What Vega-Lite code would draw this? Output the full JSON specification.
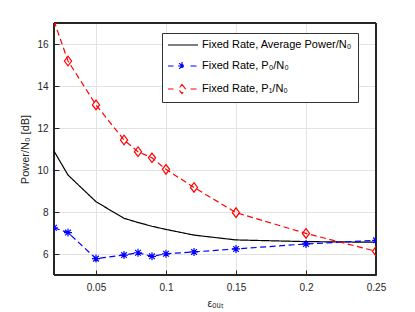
{
  "$schema": "https://vega.github.io/schema/vega-lite/v6.json",
  "width": 322,
  "height": 252,
  "autosize": "none",
  "padding": {"left": 54, "top": 23, "right": 39, "bottom": 37},
  "background": "white",
  "config": {
    "font": "Liberation Sans",
    "view": {"stroke": null},
    "axis": {
      "labelFont": "Liberation Sans",
      "labelFontSize": 10,
      "labelColor": "#262626",
      "domainColor": "#262626",
      "tickColor": "#262626",
      "gridColor": "#e3e3e3",
      "titleFont": "Liberation Sans",
      "titleFontWeight": "normal",
      "titleColor": "#262626",
      "tickSize": -5,
      "domainWidth": 1,
      "labelFlush": false
    }
  },
  "data": {
    "values": [
      {"x": 0.02, "series": "Fixed Rate, Average Power/N₀", "value": 10.9},
      {"x": 0.03, "series": "Fixed Rate, Average Power/N₀", "value": 9.76},
      {"x": 0.05, "series": "Fixed Rate, Average Power/N₀", "value": 8.49},
      {"x": 0.07, "series": "Fixed Rate, Average Power/N₀", "value": 7.7},
      {"x": 0.08, "series": "Fixed Rate, Average Power/N₀", "value": 7.5},
      {"x": 0.09, "series": "Fixed Rate, Average Power/N₀", "value": 7.32},
      {"x": 0.1, "series": "Fixed Rate, Average Power/N₀", "value": 7.17},
      {"x": 0.12, "series": "Fixed Rate, Average Power/N₀", "value": 6.9},
      {"x": 0.15, "series": "Fixed Rate, Average Power/N₀", "value": 6.67},
      {"x": 0.2, "series": "Fixed Rate, Average Power/N₀", "value": 6.59},
      {"x": 0.25, "series": "Fixed Rate, Average Power/N₀", "value": 6.56},
      {"x": 0.02, "series": "Fixed Rate, P₀/N₀", "value": 7.25},
      {"x": 0.03, "series": "Fixed Rate, P₀/N₀", "value": 7.02},
      {"x": 0.05, "series": "Fixed Rate, P₀/N₀", "value": 5.78},
      {"x": 0.07, "series": "Fixed Rate, P₀/N₀", "value": 5.95},
      {"x": 0.08, "series": "Fixed Rate, P₀/N₀", "value": 6.06},
      {"x": 0.09, "series": "Fixed Rate, P₀/N₀", "value": 5.89},
      {"x": 0.1, "series": "Fixed Rate, P₀/N₀", "value": 6.01},
      {"x": 0.12, "series": "Fixed Rate, P₀/N₀", "value": 6.1},
      {"x": 0.15, "series": "Fixed Rate, P₀/N₀", "value": 6.24},
      {"x": 0.2, "series": "Fixed Rate, P₀/N₀", "value": 6.48},
      {"x": 0.25, "series": "Fixed Rate, P₀/N₀", "value": 6.65},
      {"x": 0.02, "series": "Fixed Rate, P₁/N₀", "value": 17.1},
      {"x": 0.03, "series": "Fixed Rate, P₁/N₀", "value": 15.19},
      {"x": 0.05, "series": "Fixed Rate, P₁/N₀", "value": 13.1},
      {"x": 0.07, "series": "Fixed Rate, P₁/N₀", "value": 11.43},
      {"x": 0.08, "series": "Fixed Rate, P₁/N₀", "value": 10.87},
      {"x": 0.09, "series": "Fixed Rate, P₁/N₀", "value": 10.58},
      {"x": 0.1, "series": "Fixed Rate, P₁/N₀", "value": 10.03},
      {"x": 0.12, "series": "Fixed Rate, P₁/N₀", "value": 9.17},
      {"x": 0.15, "series": "Fixed Rate, P₁/N₀", "value": 7.97},
      {"x": 0.2, "series": "Fixed Rate, P₁/N₀", "value": 6.98},
      {"x": 0.25, "series": "Fixed Rate, P₁/N₀", "value": 6.13}
    ]
  },
  "layer": [
    {
      "mark": {"type": "rect", "fill": null, "filled": false, "stroke": "#262626", "strokeWidth": 1},
      "encoding": {
        "x": {"datum": 0.02, "type": "quantitative", "scale": {"domain": [0.02, 0.25], "nice": false, "zero": false},
          "axis": {"orient": "bottom", "values": [0.05, 0.1, 0.15, 0.2, 0.25], "format": "~g", "grid": true, "title": "εₒᵤₜ", "titleFontSize": 11, "labelPadding": 12, "titlePadding": 5}},
        "x2": {"datum": 0.25},
        "y": {"datum": 5, "type": "quantitative", "scale": {"domain": [5, 17], "nice": false, "zero": false},
          "axis": {"orient": "left", "values": [6, 8, 10, 12, 14, 16], "grid": true, "title": "Power/N₀ [dB]", "titleFontSize": 11, "labelPadding": 11, "titlePadding": 6}},
        "y2": {"datum": 17}
      }
    },
    {
      "mark": {"type": "line", "strokeWidth": 1.2, "clip": true},
      "encoding": {
        "x": {"field": "x", "type": "quantitative"},
        "y": {"field": "value", "type": "quantitative"},
        "color": {
          "field": "series", "type": "nominal",
          "scale": {"domain": ["Fixed Rate, Average Power/N₀", "Fixed Rate, P₀/N₀", "Fixed Rate, P₁/N₀"], "range": ["#000000", "#0000ff", "#ff0000"]},
          "legend": {
            "orient": "none", "legendX": 108, "legendY": 10,
            "title": null,
            "labelFont": "Liberation Sans", "labelFontSize": 11, "labelColor": "#000000",
            "fillColor": "white", "strokeColor": "#333333",
            "padding": 6, "rowPadding": 9,
            "symbolSize": 100, "symbolStrokeWidth": 1.2, "labelOffset": 22,
            "encode": {
              "symbols": {
                "update": {
                  "shape": {"signal": "datum.value === 'Fixed Rate, Average Power/N₀' ? 'M-1.2,0H4.8' : datum.value === 'Fixed Rate, P₀/N₀' ? 'M-1.2,0H-0.1M3.3,0H4.8M0.8,0H2.4M1.6,-0.8V0.8M1.03,-0.57L2.17,0.57M1.03,0.57L2.17,-0.57' : 'M-1.2,0H-0.1M3.3,0H4.8M1.6,-0.9L2.3,0L1.6,0.9L0.9,0Z'"},
                  "fill": {"value": "transparent"},
                  "strokeDash": {"value": []}
                }
              }
            }
          }
        },
        "strokeDash": {
          "field": "series", "type": "nominal",
          "scale": {"domain": ["Fixed Rate, Average Power/N₀", "Fixed Rate, P₀/N₀", "Fixed Rate, P₁/N₀"], "range": [[1, 0], [6, 3.5], [6, 3.5]]},
          "legend": null
        }
      }
    },
    {
      "transform": [{"filter": "datum.series !== 'Fixed Rate, Average Power/N₀'"}],
      "mark": {"type": "point", "filled": false, "strokeWidth": 1.2, "size": 64, "clip": true, "opacity": 1},
      "encoding": {
        "x": {"field": "x", "type": "quantitative"},
        "y": {"field": "value", "type": "quantitative"},
        "color": {"field": "series", "type": "nominal"},
        "shape": {
          "field": "series", "type": "nominal",
          "scale": {"domain": ["Fixed Rate, P₀/N₀", "Fixed Rate, P₁/N₀"], "range": ["M-1,0H1M0,-1V1M-0.71,-0.71L0.71,0.71M-0.71,0.71L0.71,-0.71", "M0,-1.2L0.9,0L0,1.2L-0.9,0Z"]},
          "legend": null
        }
      }
    }
  ]
}
